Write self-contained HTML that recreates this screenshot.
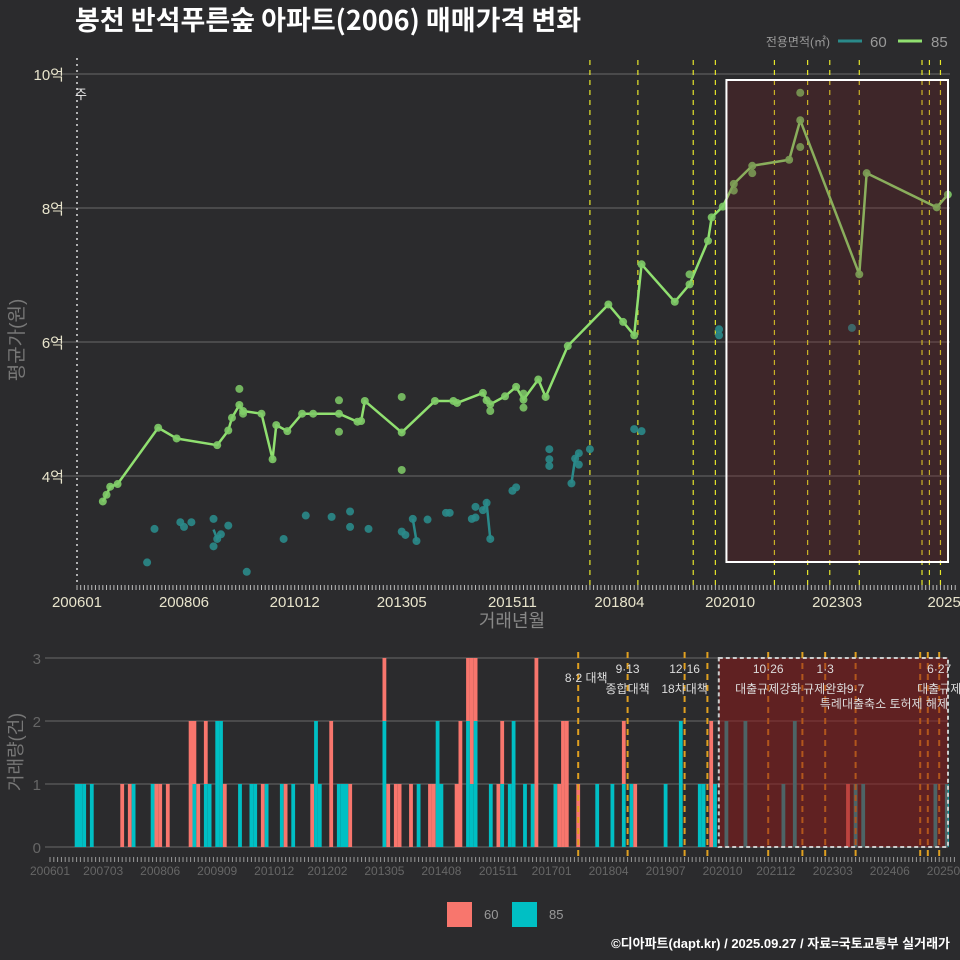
<!DOCTYPE html>
<html><head><meta charset="utf-8">
<style>
html,body{margin:0;padding:0;background:#2b2b2d;}
svg{display:block;font-family:"Liberation Sans","Noto Sans CJK KR",sans-serif;}
</style></head>
<body>
<svg id="c" width="960" height="960" viewBox="0 0 960 960" xmlns="http://www.w3.org/2000/svg">
<rect x="0" y="0" width="960" height="960" fill="#2b2b2d"/>
<text x="75" y="30" fill="#ffffff" font-size="27" font-weight="bold" font-family="'Noto Sans CJK KR','Liberation Sans',sans-serif">봉천 반석푸른숲 아파트(2006) 매매가격 변화</text>
<g>
<text x="830" y="46" fill="#999" font-size="12" text-anchor="end">전용면적(㎡)</text>
<line x1="838" y1="41" x2="862" y2="41" stroke="#2a8a8a" stroke-width="3"/>
<text x="870" y="47" fill="#999" font-size="15">60</text>
<line x1="898" y1="41" x2="922" y2="41" stroke="#90e070" stroke-width="3"/>
<text x="931" y="47" fill="#999" font-size="15">85</text>
</g>
<text transform="translate(23,340) rotate(-90)" fill="#777" font-size="19" text-anchor="middle">평균가(원)</text>
<text x="512" y="627" fill="#888" font-size="18" text-anchor="middle">거래년월</text>
<text transform="translate(22,752) rotate(-90)" fill="#777" font-size="18" text-anchor="middle">거래량(건)</text>
<g id="topPanel"></g>
<g id="botPanel"></g>
<g>
<rect x="447" y="902" width="25" height="25" fill="#f8766d"/>
<text x="484" y="919" fill="#999" font-size="13">60</text>
<rect x="512" y="902" width="25" height="25" fill="#00bfc4"/>
<text x="549" y="919" fill="#999" font-size="13">85</text>
</g>
<text x="950" y="948" fill="#fff" font-size="13" font-weight="bold" text-anchor="end">©디아파트(dapt.kr) / 2025.09.27 / 자료=국토교통부 실거래가</text>
</svg>
<script>
// ---- price chart data (month index from 2006-01, price in 억) ----
const line85M = [7,8,9,11,22,27,38,41,42,44,45,50,53,54,57,61,64,71,76,77,78,88,97,102,103,110,111,112,116,119,121,125,127,133,144,148,151,153,162,166,171,172,175,178,183,193,196,212,214,233,236];
const line85V = [3.62,3.72,3.84,3.88,4.72,4.56,4.46,4.68,4.87,5.06,4.97,4.93,4.25,4.76,4.67,4.93,4.93,4.93,4.81,4.82,5.12,4.65,5.12,5.12,5.09,5.24,5.13,5.07,5.19,5.33,5.14,5.44,5.18,5.94,6.56,6.30,6.10,7.16,6.60,6.86,7.51,7.86,8.02,8.36,8.63,8.72,9.31,7.01,8.52,8.01,8.20];
const extra85M = [44,45,71,71,88,88,112,121,121,166,178,183,196,196];
const extra85V = [5.30,4.93,5.13,4.66,5.18,4.09,4.97,5.23,5.02,7.01,8.26,8.52,9.72,8.91];
const pts60M = [19,21,28,29,31,37,37,38,39,41,46,56,62,69,74,74,79,88,89,91,92,95,100,101,107,108,108,110,111,112,118,119,128,128,128,134,135,136,136,139,151,153,174,174,210];
const pts60V = [2.71,3.21,3.31,3.24,3.31,3.36,2.95,3.06,3.13,3.26,2.57,3.06,3.41,3.39,3.47,3.24,3.21,3.17,3.12,3.36,3.03,3.35,3.45,3.45,3.36,3.38,3.54,3.49,3.6,3.06,3.78,3.83,4.40,4.25,4.15,3.89,4.26,4.34,4.17,4.40,4.70,4.67,6.19,6.10,6.21];
const seg60M = [[37,38,39],[91,92],[107,108],[110,111,112],[134,135,136]];
const seg60V = [[3.2,3.06,3.13],[3.36,3.03],[3.36,3.4],[3.49,3.6,3.06],[3.89,4.26,4.34]];
const yTicks = [4,6,8,10];
const yTickLabels = ["4억","6억","8억","10억"];
const xTickMonths = [0,29,59,88,118,147,177,206,235];
const xTickLabels = ["200601","200806","201012","201305","201511","201804","202010","202303","2025"];
const policyM = [139,152,167,173,189,198,204,212,229,231,234];
// ---- volume chart data ----
const barM =  [7,8,9,11,19,21,22,27,28,29,31,37,38,39,41,42,44,45,46,50,53,54,56,57,61,62,64,69,70,71,74,76,77,78,79,88,89,91,92,95,97,100,101,102,103,107,108,110,111,112,116,118,119,121,122,125,127,128,133,134,135,136,139,144,148,151,153,154,162,166,171,172,174,175,178,183,193,196,210,212,214,233,236];
const bar60 = [0,0,0,0,1,1,0,0,1,1,1,2,1,1,1,0,0,0,1,0,0,0,1,0,0,1,0,1,0,0,2,0,0,0,1,1,1,1,1,1,0,1,1,0,0,1,2,1,2,1,0,1,1,0,0,0,0,3,0,1,2,2,1,0,0,1,0,1,0,0,0,0,2,0,0,0,0,0,1,0,0,0,0];
const bar85 = [1,1,1,1,0,0,1,1,0,0,0,0,1,0,1,1,2,2,0,1,1,1,0,1,1,0,1,0,2,1,0,1,1,1,0,2,0,0,0,0,1,0,0,2,1,0,0,2,1,2,1,0,1,1,2,1,1,0,1,0,0,0,0,1,1,1,1,0,1,2,1,1,0,1,2,2,1,2,0,1,1,1,1];
const bTicks = [0,1,2,3];
const bXTickMonths = [0,14,29,44,59,73,88,103,118,132,147,162,177,191,206,221,236];
const bXTickLabels = ["200601","200703","200806","200909","201012","201202","201305","201408","201511","201701","201804","201907","202010","202112","202303","202406","202509"];
const notesM = [139,152,152,167,167,189,189,204,204,212,234,234];
const notesRow = [0,-1,1,-1,1,-1,1,-1,1,1,-1,1];
const notesText = ["8·2 대책","9·13","종합대책","12·16","18차대책","10·26","대출규제강화","1·3","규제완화","9·7","6·27","대출규제"];

const NS="http://www.w3.org/2000/svg";
function mk(tag,attrs,parent){const e=document.createElementNS(NS,tag);for(const k in attrs)e.setAttribute(k,attrs[k]);parent.appendChild(e);return e;}
const tx = m => 77 + m*3.69;
const ty = v => 476 - (v-4)*67;
const bx = m => 50 + m*3.8;
const by = c => 847 - c*63;
const topG=document.getElementById('topPanel');
const botG=document.getElementById('botPanel');

yTicks.forEach((t,i)=>{
  const l=mk('line',{x1:50,x2:950,y1:ty(t),y2:ty(t),stroke:'#5e5e5e','stroke-width':1.2},topG);
  
  
  const s=mk('text',{x:64,y:ty(t)+6,fill:'#e8e4cc','font-size':15,'text-anchor':'end'},topG);
  s.textContent=yTickLabels[i];
  
  
});
for(let m=0;m<=238;m++){
  const t=mk('line',{x1:tx(m),x2:tx(m),y1:585,y2:590,stroke:'#bbb','stroke-width':1},topG);
  
  
  const b=mk('line',{x1:bx(m),x2:bx(m),y1:857,y2:862,stroke:'#999','stroke-width':1},botG);
  
  
}
xTickMonths.forEach((m,i)=>{
  const s=mk('text',{x:tx(m),y:607,fill:'#e8e4cc','font-size':15,'text-anchor':'middle'},topG);
  s.textContent=xTickLabels[i];
  
  
});
const sl=mk('line',{x1:77,x2:77,y1:58,y2:585,stroke:'#ddd','stroke-width':1.5,'stroke-dasharray':'2,4'},topG);


const st=mk('text',{x:75,y:99,fill:'#eee','font-size':13},topG);
st.textContent='주';


policyM.forEach(m=>{
  const l=mk('line',{x1:tx(m),x2:tx(m),y1:60,y2:585,stroke:'#e6e62a','stroke-width':1.2,'stroke-dasharray':'5,5'},topG);
  
  
});
seg60M.forEach((ms,i)=>{
  const p=mk('polyline',{points:ms.map((m,j)=>tx(m)+','+ty(seg60V[i][j])).join(' '),fill:'none',stroke:'#2a8a8a','stroke-width':2.5},topG);
  
  
});
pts60M.forEach((m,i)=>{
  const c=mk('circle',{cx:tx(m),cy:ty(pts60V[i]),r:4,fill:'#2a8a8a','fill-opacity':0.9},topG);
  
  
});
const pl=mk('polyline',{points:line85M.map((m,i)=>tx(m)+','+ty(line85V[i])).join(' '),fill:'none',stroke:'#90e070','stroke-width':2.5,'stroke-linejoin':'round'},topG);


line85M.forEach((m,i)=>{
  const c=mk('circle',{cx:tx(m),cy:ty(line85V[i]),r:4,fill:'#80cc68','fill-opacity':0.9},topG);
  
  
});
extra85M.forEach((m,i)=>{
  const c=mk('circle',{cx:tx(m),cy:ty(extra85V[i]),r:4,fill:'#80cc68','fill-opacity':0.85},topG);
  
  
});
const sh=mk('rect',{x:tx(176),y:80,width:948-tx(176),height:482,fill:'rgba(120,25,30,0.25)',stroke:'#fff','stroke-width':2},topG);



bTicks.forEach(t=>{
  const l=mk('line',{x1:45,x2:948,y1:by(t),y2:by(t),stroke:'#5e5e5e','stroke-width':1.2},botG);
  
  
  const s=mk('text',{x:41,y:by(t)+6,fill:'#666','font-size':15,'text-anchor':'end'},botG);
  s.textContent=String(t);
  
  
});
bXTickMonths.forEach((m,i)=>{
  const s=mk('text',{x:bx(m),y:875,fill:'#666','font-size':12,'text-anchor':'middle'},botG);
  s.textContent=bXTickLabels[i];
  
  
});
barM.forEach((m,i)=>{
  const x=bx(m)-1.9;
  if(bar85[i]>0){
    const r=mk('rect',{x:x,y:by(bar85[i]),width:3.8,height:bar85[i]*63,fill:'#00bfc4'},botG);
    
    
  }
  if(bar60[i]>0){
    const r=mk('rect',{x:x,y:by(bar85[i]+bar60[i]),width:3.8,height:bar60[i]*63,fill:'#f8766d'},botG);
    
    
  }
});
policyM.forEach(m=>{
  const l=mk('line',{x1:bx(m),x2:bx(m),y1:652,y2:858,stroke:'#e0a020','stroke-width':2,'stroke-dasharray':'6,5'},botG);
  
  
});
const sb=mk('rect',{x:bx(176),y:658,width:948-bx(176),height:189,fill:'rgba(140,25,25,0.55)',stroke:'#ccc','stroke-width':2,'stroke-dasharray':'4,3'},botG);


notesM.forEach((m,i)=>{
  const y = notesRow[i]<0 ? 673 : 693;
  const s=mk('text',{x:bx(m)+(i===0?8:0),y:(i===0?682:y),fill:'#ddd','font-size':12,'text-anchor':'middle'},botG);
  s.textContent=notesText[i];
  
  
});
const n2=mk('text',{x:948,y:708,fill:'#ddd','font-size':12,'text-anchor':'end'},botG);
n2.textContent='특례대출축소 토허제 해제';


</script>
</body></html>
